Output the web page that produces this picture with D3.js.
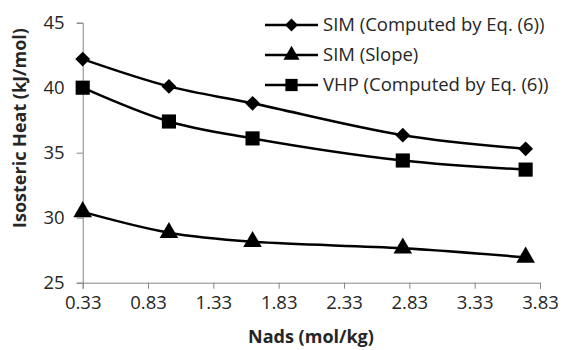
<!DOCTYPE html>
<html lang="en">
<head>
    <meta charset="utf-8">
    <title>Isosteric Heat</title>
    <script src="https://d3js.org/d3.v7.min.js" charset="utf-8"></script>
    <style>
        body { margin: 0; background: #fff; }
        text { font-family: "Open Sans", "Liberation Sans", sans-serif; fill: #262626; }
    </style>
</head>
<body>
<script>

var nads = [0.33, 0.99, 1.63, 2.78, 3.72]
var simEq6 = [42.2, 40.1, 38.8, 36.35, 35.3]
var simSlope = [30.45, 28.85, 28.15, 27.65, 26.95]
var vhpEq6 = [40.0, 37.4, 36.1, 34.4, 33.7]
var seriesNames = ["SIM (Computed by Eq. (6))", "SIM (Slope)", "VHP (Computed by Eq. (6))"]
var seriesSymbols = [d3.symbolDiamond2, d3.symbolTriangle, d3.symbolSquare]
var xTicks = ["0.33", "0.83", "1.33", "1.83", "2.33", "2.83", "3.33", "3.83"]
var yTicks = [25, 30, 35, 40, 45]

var w = 574, h = 350
var svg = d3.select("body").append("svg").attr("width", w).attr("height", h)

var x = d3.scaleLinear().domain([0.33, 3.83]).range([82.7, 540])
var y = d3.scaleLinear().domain([25, 45]).range([282.7, 22.7])

// axes
var xAxis = d3.axisBottom(x).tickValues(xTicks.map(Number)).tickFormat(function(d){return d.toFixed(2)}).tickSizeOuter(0).tickSize(6)
var yAxis = d3.axisLeft(y).tickValues(yTicks).tickSizeOuter(0).tickSize(6)

var gx = svg.append("g").attr("transform", "translate(0," + y(25) + ")").call(xAxis)
var gy = svg.append("g").attr("transform", "translate(" + x(0.33) + ",0)").call(yAxis)

;[gx, gy].forEach(function(g) {
    g.select(".domain").attr("stroke", "#868686").attr("stroke-width", 1)
    g.selectAll(".tick line").attr("stroke", "#868686")
    g.selectAll(".tick text").style("font-size", "18.5px").attr("fill", "#262626")
})
gx.selectAll(".tick text").attr("dy", "0.95em").attr("y", 9)
gy.selectAll(".tick text").attr("x", -18)

svg.append("text").attr("x", 311).attr("y", 343).attr("text-anchor", "middle")
    .style("font-size", "18px").style("font-weight", "bold").text("Nads (mol/kg)")
svg.append("text").attr("transform", "translate(26,128) rotate(-90)").attr("text-anchor", "middle")
    .style("font-size", "18px").style("font-weight", "bold").text("Isosteric Heat (kJ/mol)")

// series
var allSeries = [simEq6, simSlope, vhpEq6]
var line = d3.line().x(function(d){return x(d[0])}).y(function(d){return y(d[1])}).curve(d3.curveCatmullRom.alpha(0.5))
var symSizes = [140, 150, 200]

allSeries.forEach(function(vals, i) {
    var pts = nads.map(function(n, j){return [n, vals[j]]})
    svg.append("path").datum(pts).attr("d", line).attr("fill", "none").attr("stroke", "#000").attr("stroke-width", 2.5)
    svg.selectAll(".m" + i).data(pts).enter().append("path")
        .attr("transform", function(d){return "translate(" + x(d[0]) + "," + y(d[1]) + ")"})
        .attr("d", d3.symbol().type(seriesSymbols[i]).size(symSizes[i]))
        .attr("fill", "#000")
})

// legend
var order = [0, 1, 2]
order.forEach(function(i, k) {
    var ly = 25 + k * 30
    svg.append("line").attr("x1", 265).attr("x2", 318).attr("y1", ly).attr("y2", ly).attr("stroke", "#000").attr("stroke-width", 2.5)
    svg.append("path").attr("transform", "translate(291.5," + ly + ")")
        .attr("d", d3.symbol().type(seriesSymbols[i]).size(symSizes[i] * 0.75)).attr("fill", "#000")
    svg.append("text").attr("x", 323).attr("y", ly).attr("dy", "0.35em").style("font-size", "18.5px").text(seriesNames[i])
})

</script>
</body>
</html>
